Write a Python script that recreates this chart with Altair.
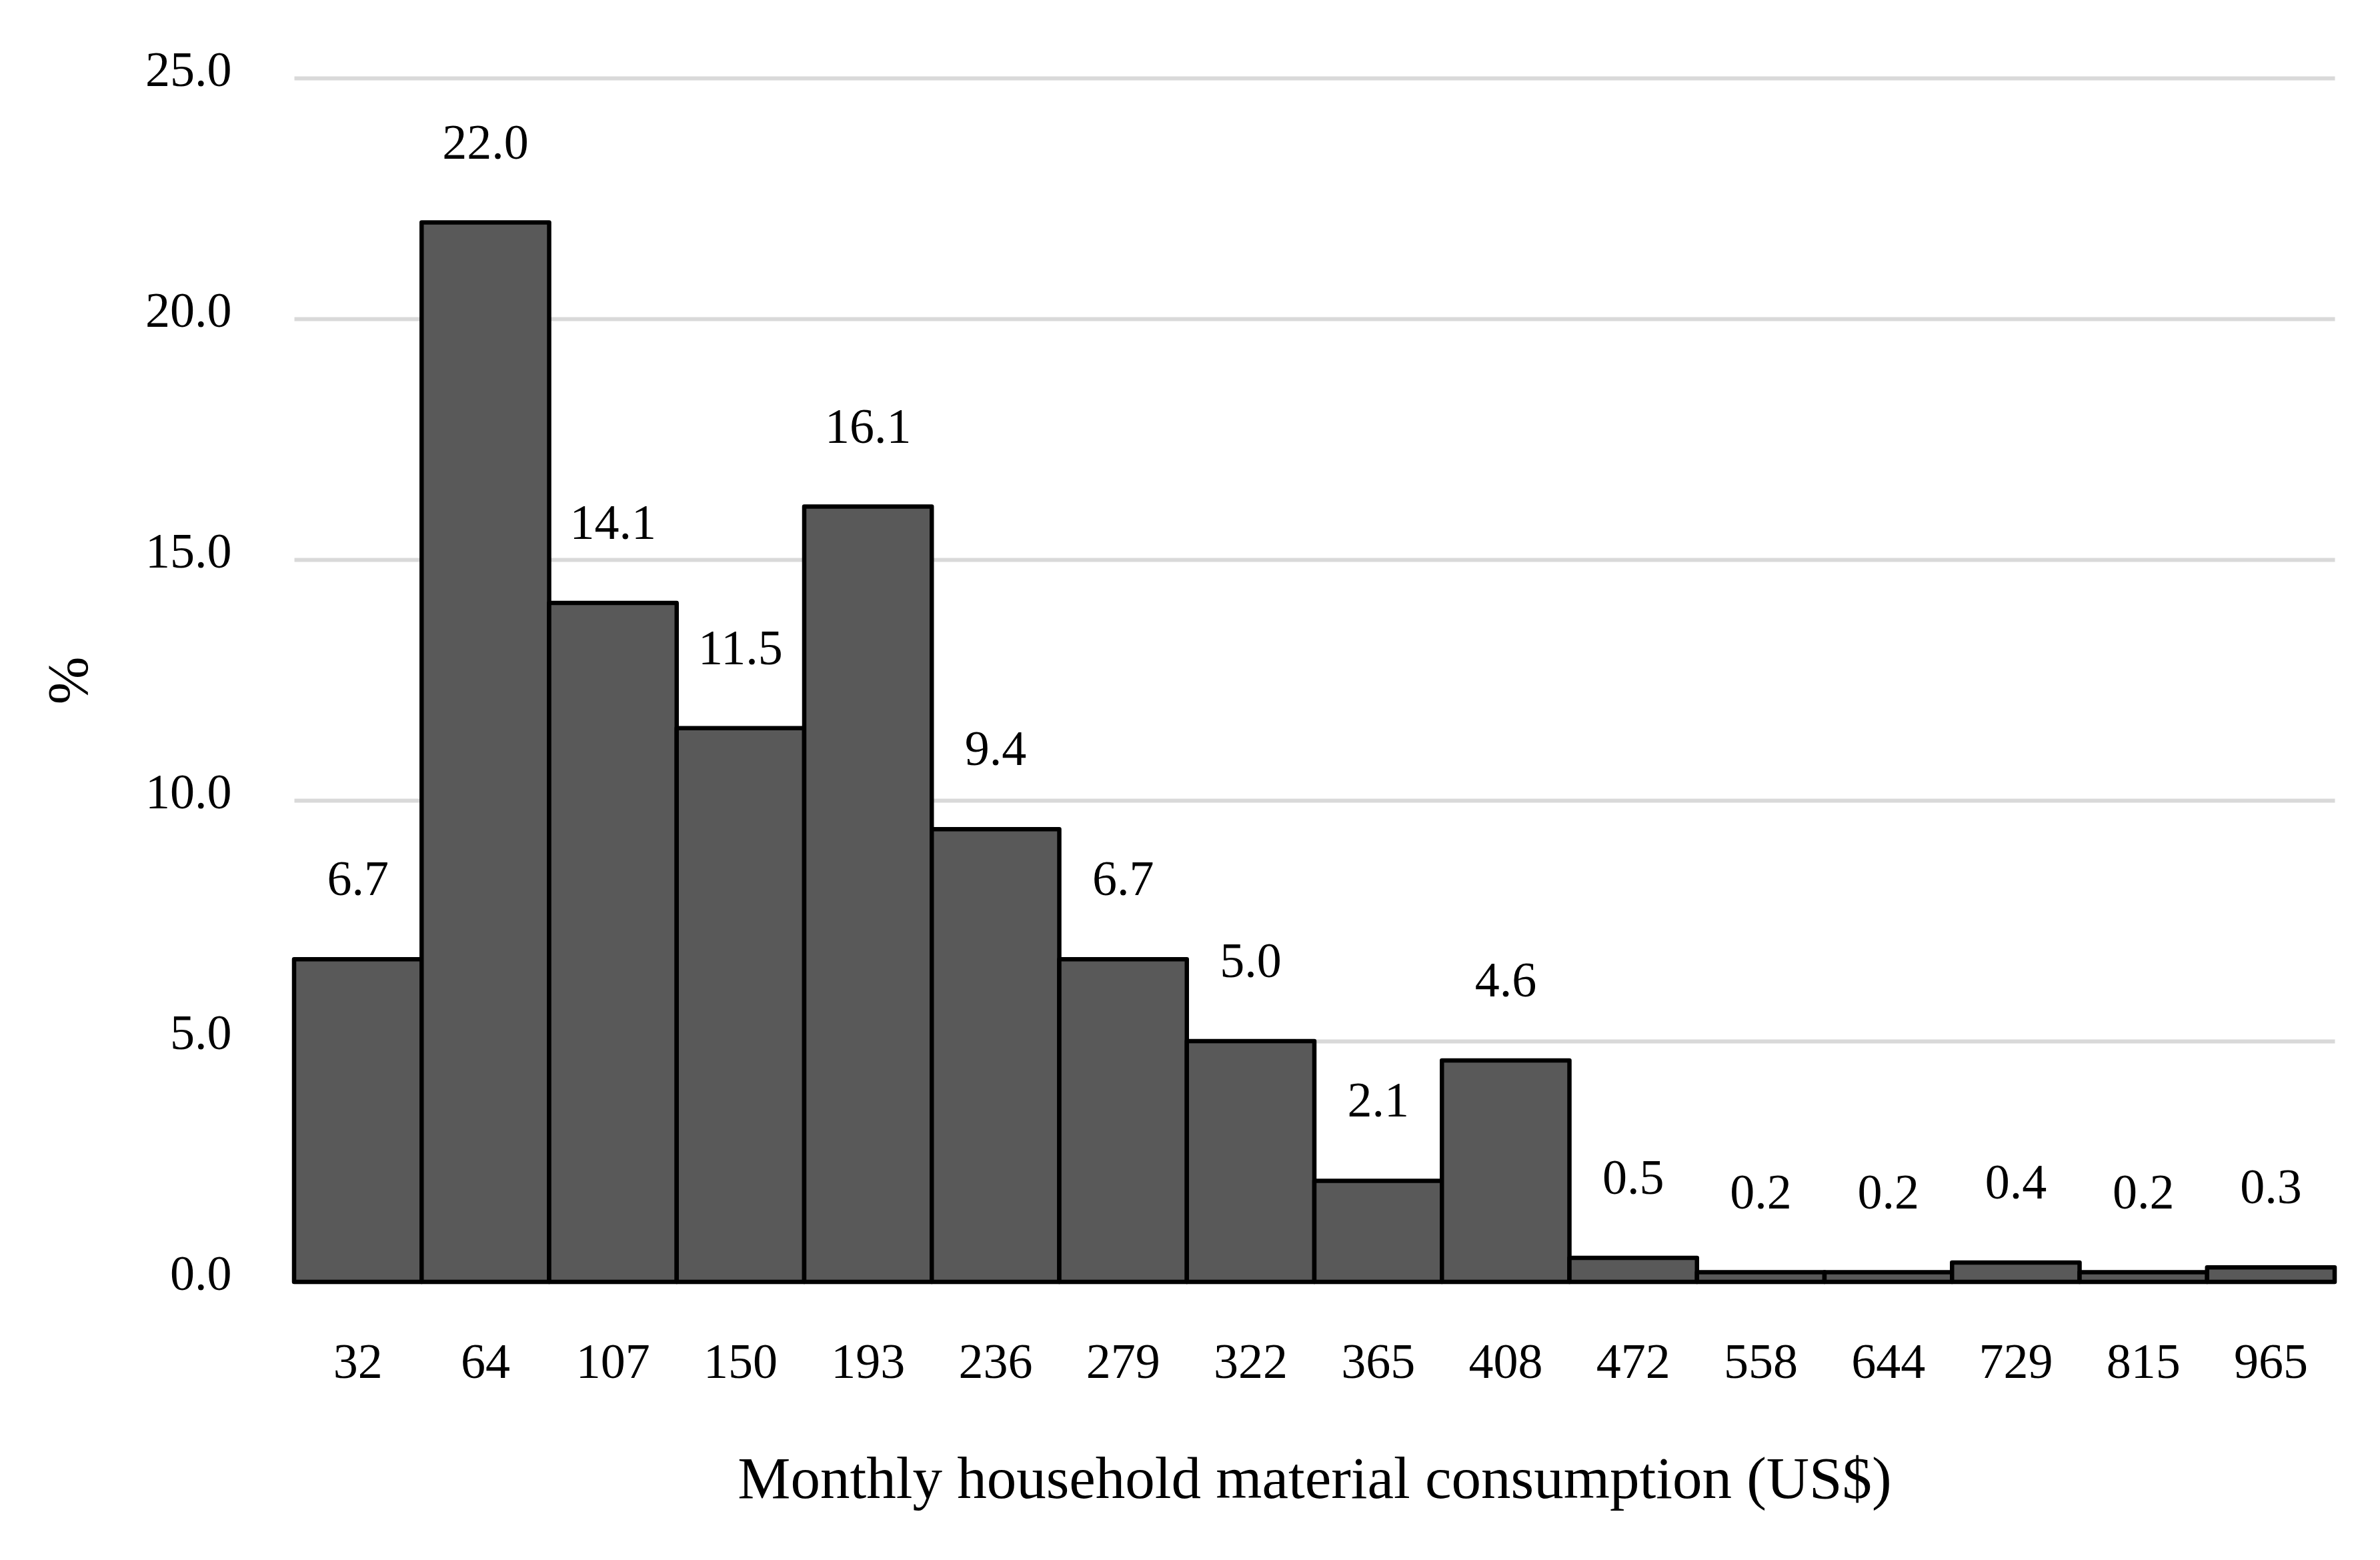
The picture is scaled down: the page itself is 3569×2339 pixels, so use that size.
import altair as alt
import pandas as pd

categories = ["32", "64", "107", "150", "193", "236", "279", "322",
              "365", "408", "472", "558", "644", "729", "815", "965"]
percent = [6.7, 22.0, 14.1, 11.5, 16.1, 9.4, 6.7, 5.0,
           2.1, 4.6, 0.5, 0.2, 0.2, 0.4, 0.2, 0.3]
y_ticks = [0, 5, 10, 15, 20, 25]

df = pd.DataFrame({"bin": categories, "pct": percent})

FONT = "Liberation Serif"

x_enc = alt.X(
    "bin:N", sort=None,
    scale=alt.Scale(paddingInner=0, paddingOuter=0),
    axis=alt.Axis(
        title="Monthly household material consumption (US$)",
        labelAngle=0, ticks=False, tickSize=0, domain=False,
        labelPadding=143, labelBaseline="alphabetic",
        labelFontSize=74, labelFont=FONT, labelColor="black",
        titleFontSize=89, titleFont=FONT, titleFontWeight="normal",
        titleColor="black", titleY=323, titleBaseline="alphabetic",
    ),
)

y_enc = alt.Y(
    "pct:Q",
    scale=alt.Scale(domain=[0, 25], nice=False),
    axis=alt.Axis(
        title="%", values=y_ticks, format=".1f",
        ticks=False, tickSize=0, domain=False,
        grid=True, gridColor="#d9d9d9", gridWidth=6,
        labelPadding=94, labelBaseline="alphabetic", labelOffset=11,
        labelFontSize=74, labelFont=FONT, labelColor="black",
        titleFontSize=86, titleFont=FONT, titleFontWeight="normal",
        titleColor="black", titleX=-311, titleY=903,
        titleBaseline="alphabetic", titleAlign="center", titleAngle=270,
    ),
)

bars = alt.Chart(df).mark_bar(
    color="#595959", stroke="black", strokeWidth=6.5, strokeJoin="round"
).encode(x=x_enc, y=y_enc)

labels = alt.Chart(df).mark_text(
    font=FONT, fontSize=74, color="black", baseline="alphabetic",
    align="center", dy=-96,
).encode(
    x=alt.X("bin:N", sort=None),
    y=alt.Y("pct:Q"),
    text=alt.Text("pct:Q", format=".1f"),
)

chart = alt.layer(bars, labels).properties(
    width=3060, height=1805,
    autosize=alt.AutoSizeParams(type="none"),
    padding={"left": 433, "top": 109, "right": 60, "bottom": 400},
    background="white",
).configure_view(stroke=None)

chart.save("out.html", embed_options={"renderer": "svg", "actions": False})
